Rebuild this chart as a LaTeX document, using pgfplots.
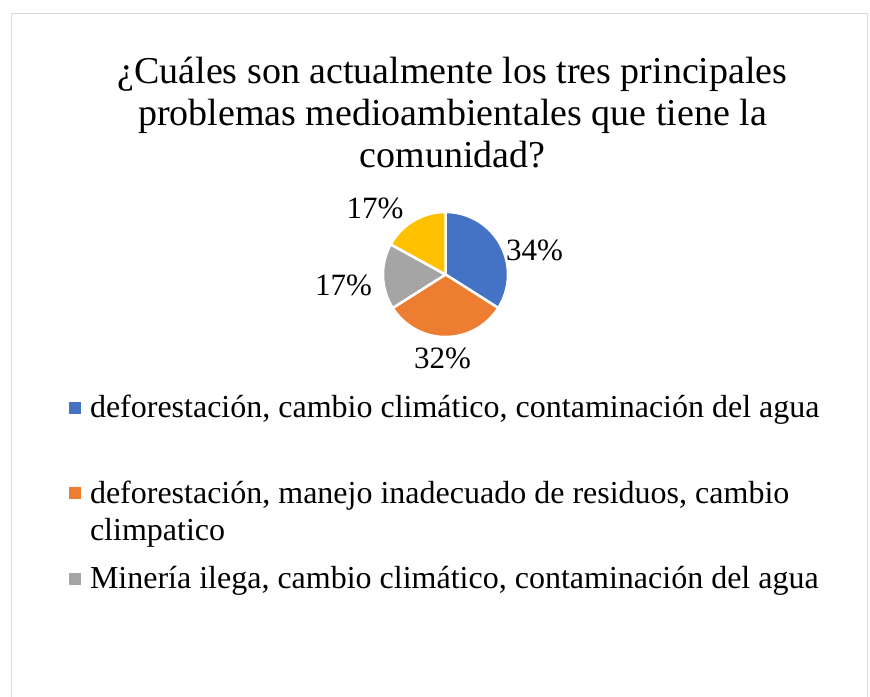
\documentclass[border=0pt]{standalone}
\usepackage{pgfplots}
\pgfplotsset{compat=1.18}
\usepackage{pgfplotstable}
\usepackage{fontspec}
\setmainfont{Liberation Serif}
\definecolor{cblue}{HTML}{4472C4}
\definecolor{corange}{HTML}{ED7D31}
\definecolor{cgray}{HTML}{A5A5A5}
\definecolor{cyellow}{HTML}{FFC000}
\definecolor{cborder}{HTML}{D9D9D9}

\pgfplotstableread{
id value
A 34
B 32
C 17
D 17
}\pietable

\pgfplotstablegetelem{0}{value}\of\pietable \let\vA\pgfplotsretval
\pgfplotstablegetelem{1}{value}\of\pietable \let\vB\pgfplotsretval
\pgfplotstablegetelem{2}{value}\of\pietable \let\vC\pgfplotsretval
\pgfplotstablegetelem{3}{value}\of\pietable \let\vD\pgfplotsretval
\pgfmathsetmacro\total{\vA+\vB+\vC+\vD}
\pgfmathsetmacro\aA{90}
\pgfmathsetmacro\aB{\aA-360*\vA/\total}
\pgfmathsetmacro\aC{\aB-360*\vB/\total}
\pgfmathsetmacro\aD{\aC-360*\vC/\total}
\pgfmathsetmacro\aE{\aD-360*\vD/\total}

\def\cx{445.5}
\def\cy{421.5}
\def\rr{62.5}

\newcommand\titlefont{\fontsize{38bp}{42bp}\selectfont}
\newcommand\labfont{\fontsize{31bp}{36bp}\selectfont}
\newcommand\legfont{\fontsize{32bp}{37bp}\selectfont}

\begin{document}
\begin{tikzpicture}
\begin{axis}[
  width=870bp, height=696bp, scale only axis,
  xmin=0, xmax=870, ymin=0, ymax=696,
  hide axis,
  axis background/.style={fill=white},
  legend cell align=left,
  legend image code/.code={\fill[#1,draw=none] (0bp,4bp) rectangle (12bp,16bp);},
  legend style={draw=none, fill=none, at={(axis cs:69,301)}, anchor=north west,
    inner sep=0pt, outer sep=0pt,
    row sep={85.5bp,between origins}, column sep=9bp,
    cells={anchor=base west},
    nodes={inner sep=0pt, outer sep=0pt, font=\legfont}},
]
\draw[cborder, line width=1.2bp] (axis cs:11.5,-20) rectangle (axis cs:867.5,682.5);

\addplot[fill=cblue, draw=white, line width=2.5bp, line join=round, domain=\aB:\aA, samples=80, variable=\t]
  ({\cx+\rr*cos(\t)},{\cy+\rr*sin(\t)}) -- (axis cs:\cx,\cy) -- cycle;
\addlegendentry{deforestación, cambio climático, contaminación del agua}
\addplot[fill=corange, draw=white, line width=2.5bp, line join=round, domain=\aC:\aB, samples=80, variable=\t]
  ({\cx+\rr*cos(\t)},{\cy+\rr*sin(\t)}) -- (axis cs:\cx,\cy) -- cycle;
\addlegendentry{\parbox[t]{760bp}{deforestación, manejo inadecuado de residuos, cambio\\climpatico}}
\addplot[fill=cgray, draw=white, line width=2.5bp, line join=round, domain=\aD:\aC, samples=80, variable=\t]
  ({\cx+\rr*cos(\t)},{\cy+\rr*sin(\t)}) -- (axis cs:\cx,\cy) -- cycle;
\addlegendentry{Minería ilega, cambio climático, contaminación del agua}
\addplot[forget plot, fill=cyellow, draw=white, line width=2.5bp, line join=round, domain=\aE:\aD, samples=80, variable=\t]
  ({\cx+\rr*cos(\t)},{\cy+\rr*sin(\t)}) -- (axis cs:\cx,\cy) -- cycle;

\node[anchor=base, font=\labfont, inner sep=0pt] at (axis cs:534.5,435) {34\%};
\node[anchor=base, font=\labfont, inner sep=0pt] at (axis cs:442.5,327) {32\%};
\node[anchor=base, font=\labfont, inner sep=0pt] at (axis cs:343.5,400) {17\%};
\node[anchor=base, font=\labfont, inner sep=0pt] at (axis cs:375,477) {17\%};

\node[anchor=base, font=\titlefont, inner sep=0pt] at (axis cs:452.5,612) {¿Cuáles son actualmente los tres principales};
\node[anchor=base, font=\titlefont, inner sep=0pt] at (axis cs:452.5,570) {problemas medioambientales que tiene la};
\node[anchor=base, font=\titlefont, inner sep=0pt] at (axis cs:452.5,528) {comunidad?};
\end{axis}
\end{tikzpicture}
\end{document}
